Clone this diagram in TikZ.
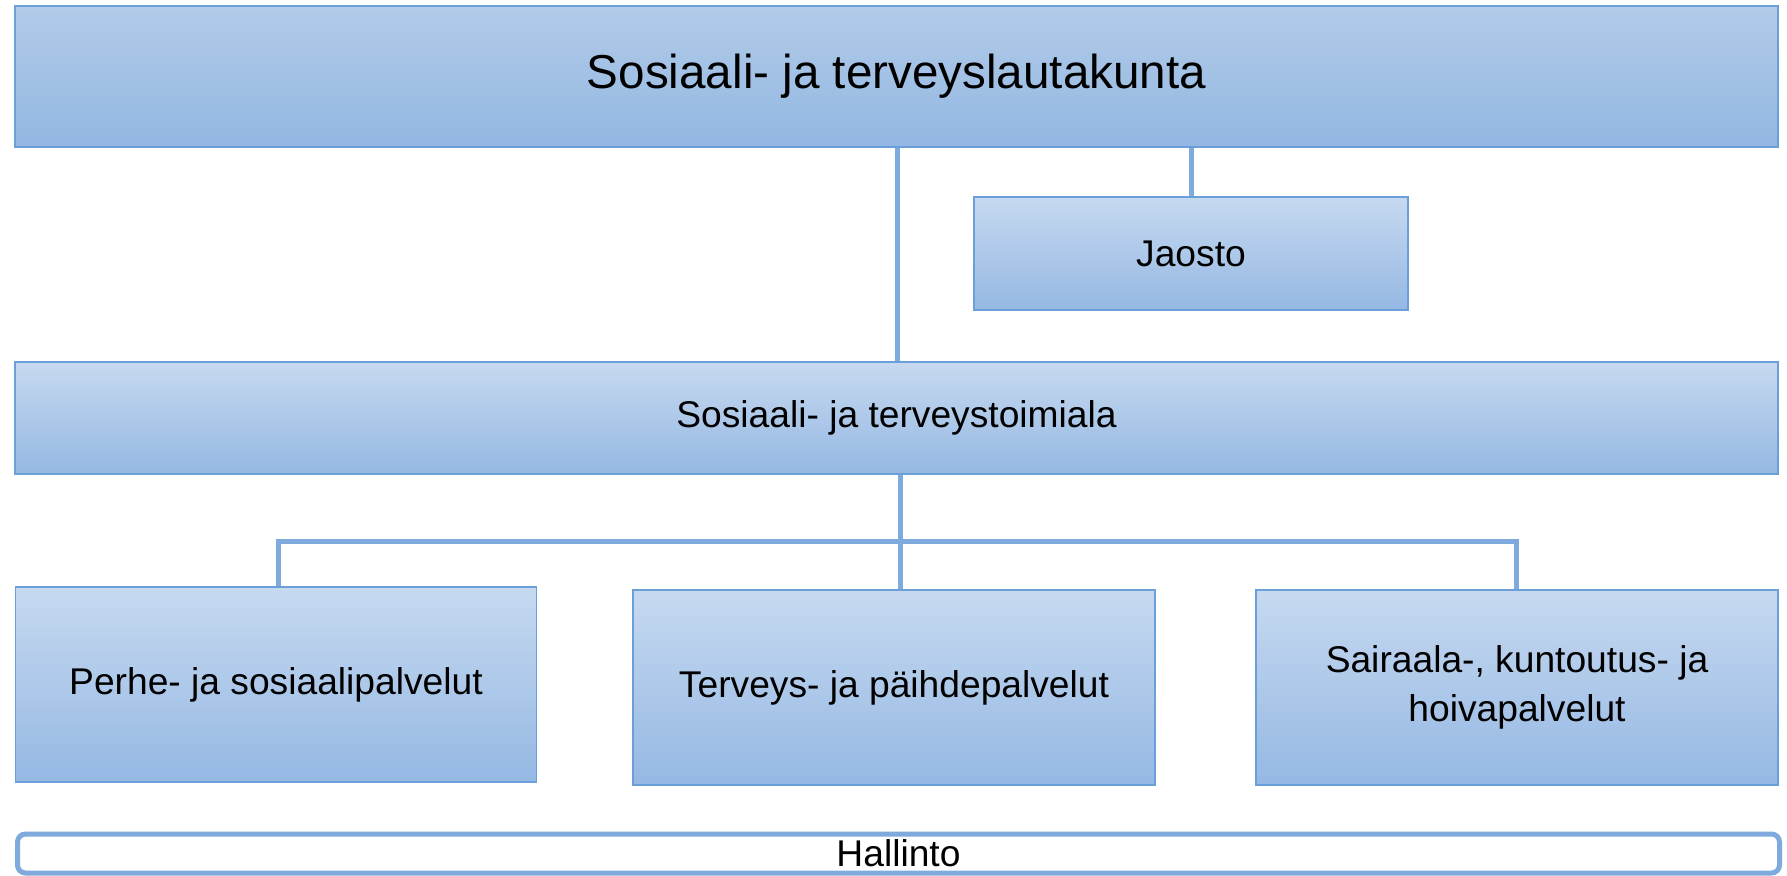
\documentclass[tikz,border=0pt]{standalone}
\usepackage{fontspec}
\setmainfont{Liberation Sans}
\definecolor{boxtop}{HTML}{C6D9F0}
\definecolor{boxbot}{HTML}{95B8E3}
\definecolor{ttop}{HTML}{B1CBE8}
\definecolor{tbot}{HTML}{93B7E2}
\definecolor{boxline}{HTML}{6A9FD9}
\definecolor{conn}{HTML}{7EAADD}
\begin{document}
\begin{tikzpicture}[x=0.5pt,y=-0.5pt,
  orgbox/.style={draw=boxline, line width=0.75pt, top color=boxtop, bottom color=boxbot,
    inner sep=0pt, align=center, font=\fontsize{18.6}{24.5}\selectfont},
  titlebox/.style={orgbox, top color=ttop, bottom color=tbot, font=\fontsize{23.8}{28}\selectfont},
  connector/.style={draw=conn, line width=2.5pt},
  hallbox/.style={draw=conn, line width=2.5pt, rounded corners=4pt, fill=white,
    inner sep=0pt, font=\fontsize{18.6}{24.5}\selectfont}]
\useasboundingbox (0,0) rectangle (1787,875);
\node[titlebox, minimum width=881.5pt, minimum height=70.5pt] (top) at (896.5,76.5) {Sosiaali- ja terveyslautakunta};
\node[orgbox, minimum width=217pt, minimum height=56.5pt] (jaosto) at (1191,253.5) {Jaosto};
\node[orgbox, minimum width=881.5pt, minimum height=56pt] (toim) at (896.5,418) {Sosiaali- ja terveystoimiala};
\node[orgbox, minimum width=260.5pt, minimum height=97.5pt] (perhe) at (276,684.5) {Perhe- ja sosiaalipalvelut};
\node[orgbox, minimum width=261pt, minimum height=97.5pt] (terv) at (894,687.5) {Terveys- ja päihdepalvelut};
\node[orgbox, minimum width=261pt, minimum height=97.5pt] (sair) at (1517,687.5) {Sairaala-, kuntoutus- ja\\hoivapalvelut};
\node[hallbox, minimum width=881pt, minimum height=19.5pt] (hall) at (898.5,853.5) {Hallinto};
\coordinate (bus) at (900,541);
\draw[connector] ([xshift=0.25pt]top.south) -- ([xshift=0.25pt]top.south |- toim.north);
\draw[connector] (jaosto.north) -- (jaosto.north |- top.south);
\draw[connector] ([xshift=1.75pt]toim.south) -- ([xshift=1.75pt]toim.south |- terv.north);
\draw[connector] ([xshift=1.25pt]perhe.north) -- ([xshift=1.25pt]perhe.north |- bus) -- ([xshift=-0.5pt]sair.north |- bus) -- ([xshift=-0.5pt]sair.north);
\end{tikzpicture}
\end{document}
